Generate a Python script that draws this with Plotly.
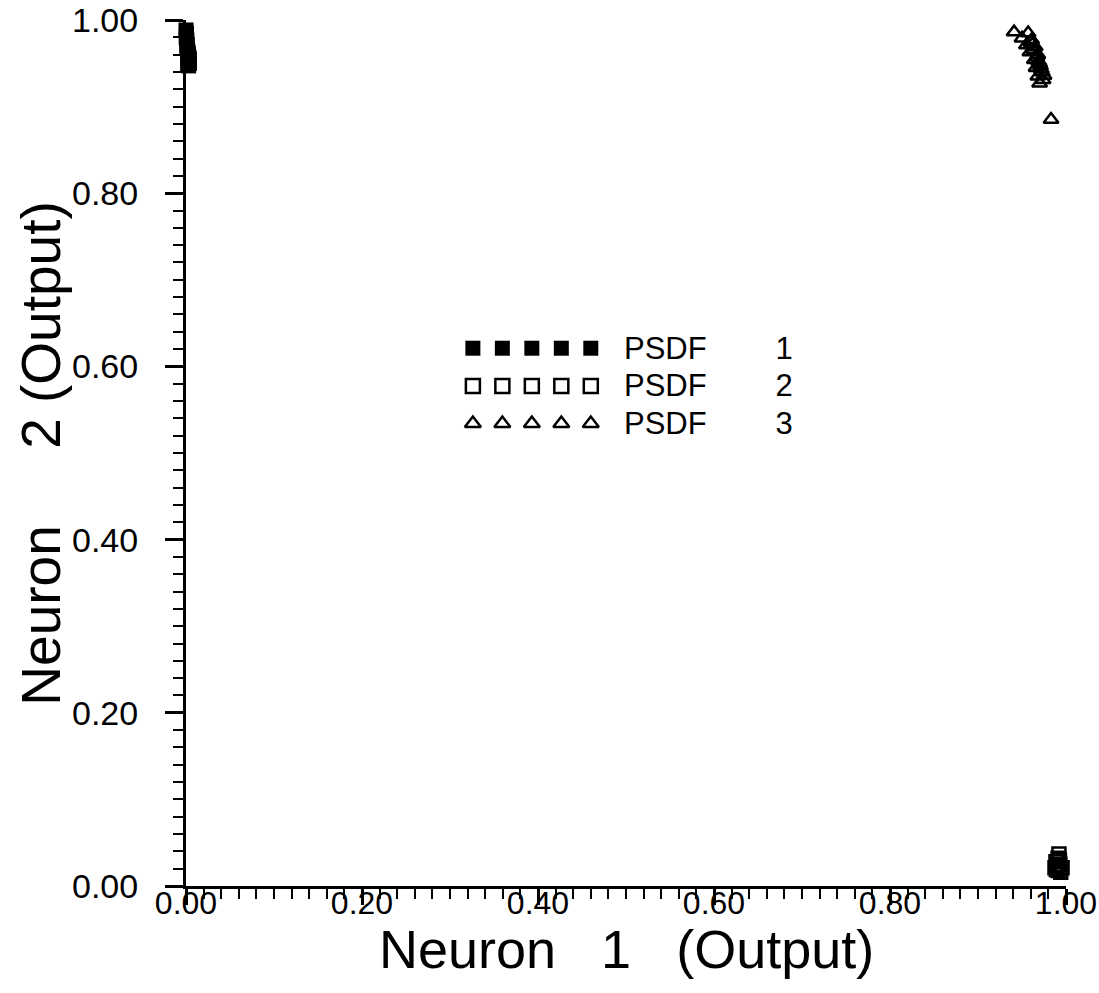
import plotly.graph_objects as go

# ---------------- data ----------------
series_names = ["PSDF 1", "PSDF 2", "PSDF 3"]

psdf1_x = [0.0, 0.0005, 0.0002, 0.001, 0.0015, 0.0008, 0.002, 0.0025,
           0.003, 0.002, 0.0035, 0.004, 0.003, 0.0018, 0.0038, 0.0006, 0.0028]
psdf1_y = [0.9885, 0.985, 0.980, 0.977, 0.972, 0.969, 0.965, 0.962,
           0.958, 0.955, 0.953, 0.950, 0.947, 0.949, 0.956, 0.983, 0.960]

psdf2_x = [0.992, 0.991, 0.9886, 0.993, 0.9875, 0.9955, 0.991, 0.994, 0.990, 0.9925, 0.989]
psdf2_y = [0.037, 0.032, 0.028, 0.025, 0.021, 0.021, 0.018, 0.016, 0.023, 0.030, 0.019]

psdf3_x = [0.941, 0.957, 0.950, 0.961, 0.955, 0.965, 0.959, 0.968,
           0.964, 0.970, 0.966, 0.973, 0.968, 0.974, 0.970, 0.983,
           0.960, 0.963, 0.967, 0.971, 0.972, 0.975, 0.969, 0.962]
psdf3_y = [0.986, 0.985, 0.979, 0.977, 0.971, 0.969, 0.963, 0.960,
           0.954, 0.950, 0.945, 0.940, 0.935, 0.931, 0.927, 0.885,
           0.974, 0.966, 0.957, 0.947, 0.943, 0.936, 0.952, 0.972]

NB = "\u00a0"
x_title = "Neuron" + NB * 3 + "1" + NB * 3 + "(Output)"
y_title = "Neuron" + NB * 5 + "2" + NB * 1 + "(Output)"

# ---------------- styles ----------------
FONT = "Liberation Sans, Arial, sans-serif"
styles = [
    dict(symbol="square", size=15, color="black", line=dict(width=0)),
    dict(symbol="square-open", size=13, color="black", line=dict(width=2.5, color="black")),
    dict(symbol="triangle-up-open", size=13, color="black", line=dict(width=2.5, color="black")),
]

fig = go.Figure()
for name, xs, ys, st in zip(series_names,
                            [psdf1_x, psdf2_x, psdf3_x],
                            [psdf1_y, psdf2_y, psdf3_y], styles):
    fig.add_trace(go.Scatter(x=xs, y=ys, mode="markers", name=name,
                             marker=st, cliponaxis=False, showlegend=False))

# ---------------- custom legend (5 keys per row), on hidden overlay axes ----------------
leg_x0, leg_dx, n_keys = 0.326, 0.0335, 5
leg_y0, leg_dy = 0.621, 0.0435
leg_text_x = 0.495
for i, (name, st) in enumerate(zip(series_names, styles)):
    ry = leg_y0 - i * leg_dy
    kst = dict(st)
    kst["size"] = 15 if i == 0 else st["size"] + 1
    fig.add_trace(go.Scatter(x=[leg_x0 + k * leg_dx for k in range(n_keys)], y=[ry] * n_keys,
                             mode="markers", marker=kst, xaxis="x2", yaxis="y2",
                             showlegend=False, hoverinfo="skip", cliponaxis=False))
    word, digit = name.split(" ")
    fig.add_annotation(x=leg_text_x, y=ry, xref="paper", yref="paper", xanchor="left",
                       yanchor="middle", showarrow=False,
                       text=word + NB * 8 + digit,
                       font=dict(family=FONT, size=31, color="black"))

axis_common = dict(range=[0, 1], showgrid=False, zeroline=False, showline=True,
                   linecolor="black", linewidth=3, ticks="outside", tickcolor="black",
                   tickwidth=2.5, dtick=0.2, tick0=0, tickformat=".2f", automargin=False,
                   minor=dict(dtick=0.02, tick0=0, ticks="outside", ticklen=10,
                              tickwidth=2, tickcolor="black", showgrid=False))

fig.update_layout(
    width=1099, height=993,
    margin=dict(l=186, r=33, t=20, b=107, pad=0),
    paper_bgcolor="white", plot_bgcolor="white",
    font=dict(family=FONT, color="black"),
    xaxis=dict(axis_common, ticklen=16, ticklabelstandoff=-29,
               tickfont=dict(family=FONT, size=32, color="black")),
    yaxis=dict(axis_common, ticklen=18, ticklabelstandoff=20,
               tickfont=dict(family=FONT, size=34, color="black")),
    xaxis2=dict(range=[0, 1], overlaying="x", visible=False),
    yaxis2=dict(range=[0, 1], overlaying="y", visible=False),
    showlegend=False,
)

fig.add_annotation(x=0.5, y=-0.073, xref="paper", yref="paper", text=x_title,
                   showarrow=False, xanchor="center", yanchor="middle",
                   font=dict(family=FONT, size=54, color="black"))
fig.add_annotation(x=-0.165, y=0.499, xref="paper", yref="paper", text=y_title,
                   showarrow=False, xanchor="center", yanchor="middle", textangle=-90,
                   font=dict(family=FONT, size=55, color="black"))

fig.write_html("out.html")
